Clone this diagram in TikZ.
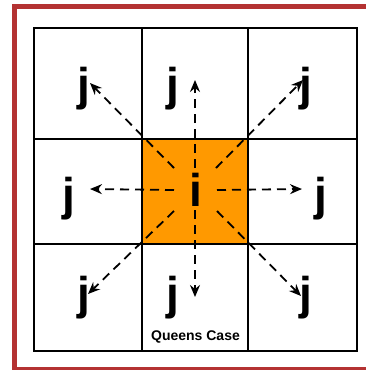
\documentclass[tikz,border=0pt]{standalone}
\usepackage{fontspec}
\setmainfont{Liberation Sans}
\usetikzlibrary{arrows.meta}
\definecolor{frame}{HTML}{B43232}
\definecolor{cellorange}{HTML}{FF9900}
\begin{document}
\begin{tikzpicture}[x=1pt,y=-1pt,
  gridline/.style={line width=2pt,black},
  bigletter/.style={font=\fontsize{46}{46}\selectfont\bfseries,anchor=base,inner sep=0pt},
  ray/.style={line width=1.8pt,dash pattern=on 9pt off 6pt,-{Stealth[length=12pt,width=10pt,inset=4pt]}}
]
\useasboundingbox (0,0) rectangle (366,370);
% red frame (open on the right, bottom cut by the page edge)
\draw[frame,line width=5pt] (366,6.5) -- (14,6.5) -- (14,369.5) -- (366,369.5);
% center cell
\fill[cellorange] (142,139) rectangle (248,244);
% grid
\draw[gridline] (34,28) rectangle (357,351);
\draw[gridline] (142,28) -- (142,351);
\draw[gridline] (248,28) -- (248,351);
\draw[gridline] (34,139) -- (357,139);
\draw[gridline] (34,244) -- (357,244);
% letters
\node[bigletter] (i) at (196,206) {i};
\node[bigletter] (jul) at (83.5,100) {j};
\node[bigletter] (jum) at (173,100) {j};
\node[bigletter] (jur) at (305.5,100) {j};
\node[bigletter] (jml) at (68.5,210) {j};
\node[bigletter] (jmr) at (320.5,210) {j};
\node[bigletter] (jbl) at (83.5,309) {j};
\node[bigletter] (jbm) at (173,309) {j};
\node[bigletter] (jbr) at (305.5,309) {j};
\node[font=\fontsize{14}{14}\selectfont\bfseries,anchor=base,inner sep=0pt] (label) at (195.5,340.5) {Queens Case};
% ray start points
\coordinate (sul) at (174,168);
\coordinate (sum) at (195,168);
\coordinate (sur) at (216,168);
\coordinate (sml) at (174,190);
\coordinate (smr) at (217,190);
\coordinate (sbl) at (174,211);
\coordinate (sbm) at (195,210);
\coordinate (sbr) at (217,211);
% ray tips
\coordinate (tul) at (90,83);
\coordinate (tum) at (195,80);
\coordinate (tur) at (303,80);
\coordinate (tml) at (90,189);
\coordinate (tmr) at (302,189);
\coordinate (tbl) at (88,294);
\coordinate (tbm) at (195,297);
\coordinate (tbr) at (301,296);
\draw[ray] (sul) -- (tul);
\draw[ray] (sum) -- (tum);
\draw[ray] (sur) -- (tur);
\draw[ray] (sml) -- (tml);
\draw[ray] (smr) -- (tmr);
\draw[ray] (sbl) -- (tbl);
\draw[ray] (sbm) -- (tbm);
\draw[ray] (sbr) -- (tbr);
\end{tikzpicture}
\end{document}
